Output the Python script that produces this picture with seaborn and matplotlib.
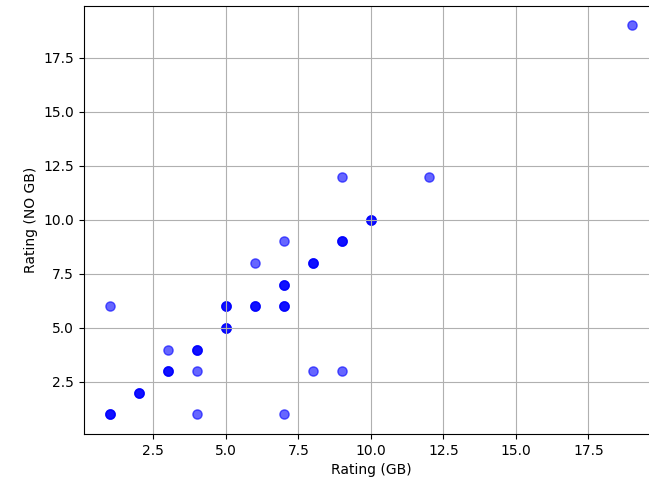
import matplotlib
matplotlib.use("Agg")
import matplotlib.pyplot as plt
import pandas as pd
import seaborn as sns

# ratings: with gross-budget info vs without (duplicates = overlapping points)
RATING_GB = [1, 1, 1, 1, 2, 2, 2, 3, 3, 3, 3, 4, 4, 4, 4, 4,
             5, 5, 5, 5, 5, 5, 6, 6, 6, 6, 7, 7, 7, 7, 7, 7, 7, 7,
             8, 8, 8, 8, 9, 9, 9, 9, 9, 10, 10, 10, 12, 19]
RATING_NO_GB = [1, 1, 1, 6, 2, 2, 2, 3, 3, 3, 4, 4, 4, 4, 3, 1,
                6, 6, 6, 5, 5, 5, 6, 6, 6, 8, 7, 7, 7, 6, 6, 6, 9, 1,
                8, 8, 8, 3, 9, 9, 9, 12, 3, 10, 10, 10, 12, 19]

df = pd.DataFrame({"gb": RATING_GB, "no_gb": RATING_NO_GB})

fig, ax = plt.subplots(figsize=(6.49, 4.88), dpi=100)
# the original picture is cropped on the right, so the axes run past the edge
fig.subplots_adjust(left=0.129, right=1.014, top=0.988, bottom=0.111)

sns.scatterplot(data=df, x="gb", y="no_gb", color="blue", alpha=0.6,
                s=44, edgecolor="face", linewidth=1.0, ax=ax)

ax.set_xlabel("Rating (GB)")
ax.set_ylabel("Rating (NO GB)")
ax.grid(True)

fig.savefig("out.png", dpi=100)
